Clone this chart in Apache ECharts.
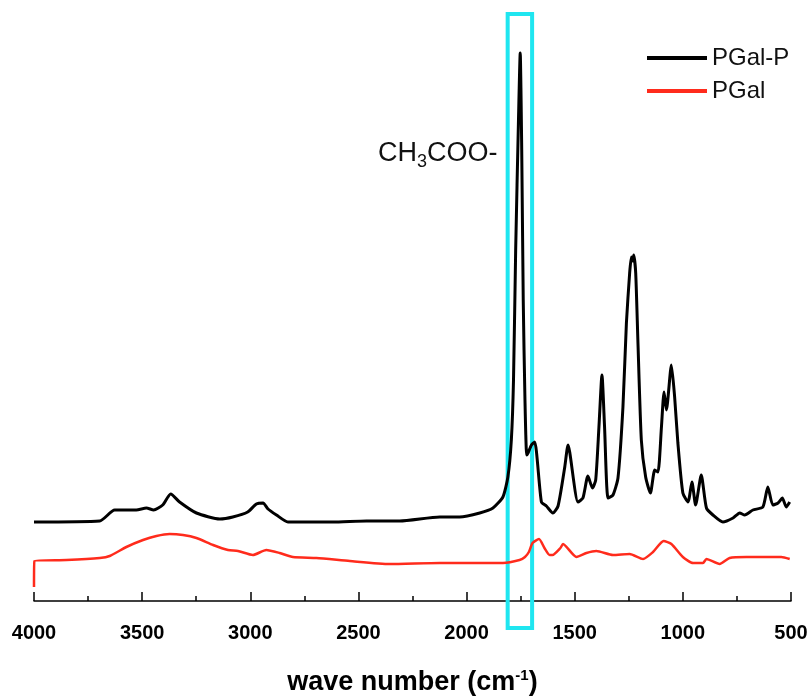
<!DOCTYPE html>
<html>
<head>
<meta charset="utf-8">
<script src="https://cdn.jsdelivr.net/npm/echarts/dist/echarts.min.js"></script>
<style>
  html, body { margin: 0; padding: 0; background: #fff; }
  #chart-container { width: 811px; height: 698px; }
</style>
</head>
<body>
<div id="chart-container"></div>
<script>
// wave number (cm-1), intensity above the axis line (arbitrary units)
const pgalP = [
  [4000, 79], [3696, 80], [3627, 91], [3527, 91], [3480, 93], [3447, 91],
  [3405, 96], [3368, 107], [3327, 99], [3249, 88], [3141, 82], [3081, 84],
  [3012, 89], [2972, 97], [2941, 98], [2918, 92], [2879, 86], [2826, 79],
  [2772, 79], [2619, 79], [2463, 80], [2309, 80], [2124, 84], [2032, 84],
  [1939, 88], [1878, 93], [1832, 104], [1809, 124], [1793, 161], [1783, 221],
  [1773, 351], [1760, 481], [1752, 548], [1745, 451], [1738, 301], [1730, 201],
  [1722, 146], [1716, 148], [1700, 156], [1685, 159], [1654, 99], [1631, 95],
  [1601, 88], [1577, 95], [1546, 134], [1531, 156], [1485, 99], [1462, 103],
  [1439, 125], [1418, 113], [1403, 121], [1388, 174], [1374, 226], [1362, 174],
  [1346, 103], [1323, 106], [1300, 123], [1277, 194], [1261, 278], [1246, 328],
  [1238, 344], [1232, 340], [1227, 346], [1218, 328], [1208, 261], [1192, 161],
  [1172, 124], [1150, 108], [1130, 131], [1115, 129], [1099, 174], [1087, 209],
  [1076, 191], [1053, 236], [1038, 204], [1023, 158], [1000, 108], [976, 99],
  [958, 119], [941, 96], [915, 126], [891, 93], [861, 86], [815, 79],
  [768, 83], [737, 88], [714, 86], [676, 91], [630, 94], [607, 114],
  [584, 96], [560, 98], [540, 103], [522, 94], [506, 99]
];

const pgal = [
  [4000, 14], [3998, 40], [3850, 41], [3696, 43], [3650, 45], [3573, 54],
  [3496, 61], [3434, 65], [3373, 67], [3311, 66], [3249, 63], [3172, 56],
  [3103, 51], [3057, 50], [2988, 46], [2926, 51], [2864, 48], [2803, 44],
  [2694, 43], [2540, 40], [2356, 37], [2124, 38], [1939, 38], [1832, 38],
  [1755, 41], [1730, 44], [1712, 49], [1695, 58], [1665, 62], [1640, 53],
  [1616, 46], [1603, 46], [1566, 53], [1554, 57], [1492, 44], [1446, 48],
  [1400, 50], [1323, 46], [1246, 47], [1184, 42], [1138, 49], [1089, 60],
  [1053, 57], [1000, 44], [953, 38], [907, 38], [891, 42], [830, 37],
  [784, 43], [706, 44], [660, 44], [614, 44], [545, 44], [506, 42]
];

const seriesNames = ['PGal-P', 'PGal'];
const highlightBand = [1810, 1697]; // boxed C=O band
const bandY = [-27, 587];

const option = {
  animation: false,
  textStyle: { fontFamily: 'Liberation Sans' },
  title: {
    text: '{a|CH}{s|3}{a|COO-}',
    left: 373,
    top: 131,
    textStyle: {
      rich: {
        a: { fontSize: 27, fontWeight: 'normal', color: '#111', fontFamily: 'Liberation Sans' },
        s: { fontSize: 18, fontWeight: 'normal', color: '#111', verticalAlign: 'bottom', padding: [17, 0, 0, 0], fontFamily: 'Liberation Sans' }
      }
    }
  },
  legend: {
    data: seriesNames,
    orient: 'vertical',
    left: 642,
    top: 41,
    icon: 'rect',
    itemWidth: 60,
    itemHeight: 4,
    itemGap: 9,
    textStyle: { fontSize: 24, color: '#111', fontFamily: 'Liberation Sans' }
  },
  grid: { left: 34, right: 20, top: 8, bottom: 66, outerBoundsMode: 'none' },
  xAxis: {
    type: 'value',
    inverse: true,
    min: 500,
    max: 4000,
    interval: 500,
    splitLine: { show: false },
    axisLine: { onZero: true, lineStyle: { color: '#000', width: 1.5 } },
    axisTick: { inside: true, length: 9, lineStyle: { color: '#000', width: 1.5 } },
    minorTick: { show: true, splitNumber: 2, length: 5, lineStyle: { color: '#000', width: 1.5 } },
    axisLabel: {
      margin: -9, fontSize: 20, fontWeight: 'bold', color: '#000', fontFamily: 'Liberation Sans',
      formatter: (v) => String(v)
    },
    name: 'wave number (cm{sup|-1})',
    nameLocation: 'middle',
    nameGap: 36,
    nameTextStyle: {
      fontSize: 27, fontWeight: 'bold', color: '#000', fontFamily: 'Liberation Sans',
      rich: {
        sup: { fontSize: 15, fontWeight: 'bold', color: '#000', verticalAlign: 'top', padding: [0, 0, 14, 0] }
      }
    }
  },
  yAxis: {
    type: 'value',
    min: -31,
    max: 593,
    show: false,
    splitLine: { show: false }
  },
  series: [
    {
      name: seriesNames[0],
      type: 'line',
      symbol: 'none',
      smooth: 0.2,
      clip: false,
      lineStyle: { color: '#000', width: 3 },
      itemStyle: { color: '#000' },
      data: pgalP,
      markArea: {
        silent: true,
        itemStyle: { color: 'rgba(0,0,0,0)', borderColor: '#1fe6f0', borderWidth: 4 },
        label: { show: false },
        data: [[
          { xAxis: highlightBand[0], yAxis: bandY[0] },
          { xAxis: highlightBand[1], yAxis: bandY[1] }
        ]]
      }
    },
    {
      name: seriesNames[1],
      type: 'line',
      symbol: 'none',
      smooth: 0.2,
      clip: false,
      lineStyle: { color: '#ff2b1c', width: 2.5 },
      itemStyle: { color: '#ff2b1c' },
      data: pgal
    }
  ]
};

const myChart = echarts.init(document.getElementById('chart-container'));
myChart.setOption(option);
window.addEventListener('resize', myChart.resize);
</script>
</body>
</html>
